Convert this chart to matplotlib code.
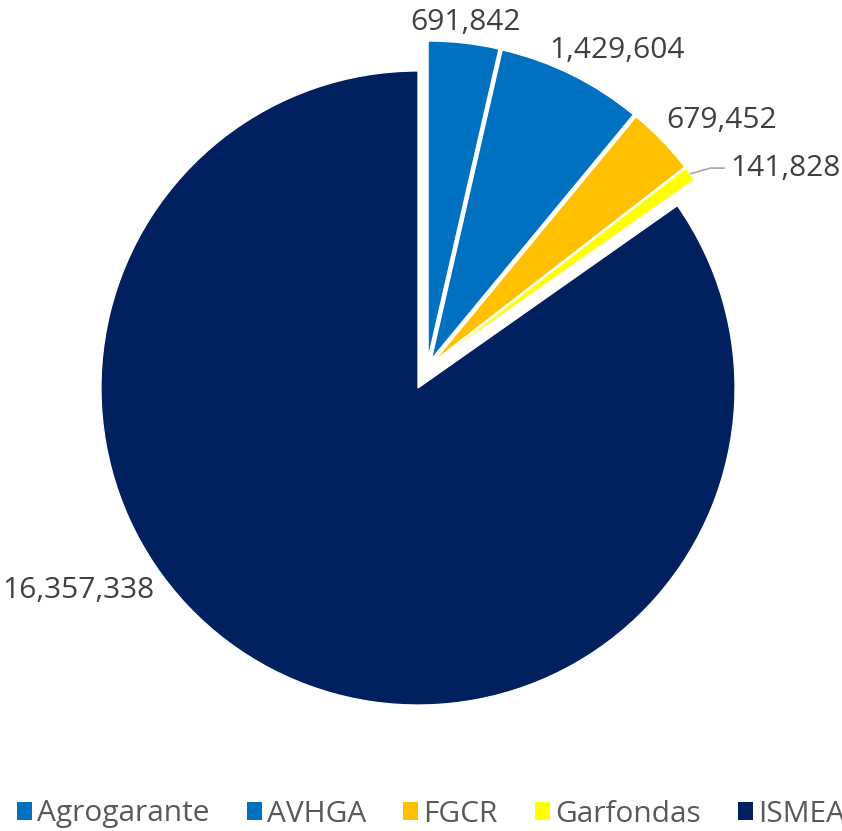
import matplotlib
matplotlib.use("Agg")
import matplotlib.pyplot as plt
import numpy as np
from matplotlib.patches import Patch

plt.rcParams['font.family'] = ['Open Sans', 'DejaVu Sans']

categories = ['Agrogarante', 'AVHGA', 'FGCR', 'Garfondas', 'ISMEA']
values = [691842, 1429604, 679452, 141828, 16357338]
colors = ['#0070C0', '#0070C0', '#FFC000', '#FFFF00', '#002060']
value_labels = [f"{v:,}" for v in values]

W, H = 842, 831
R_PX = 317.0
CX, CY = 418.0, 388.0

# label anchor points (axes data units, pie radius = 1)
label_px = [(465, 30), (617, 58), (722, 128), (785, 176), (78, 598)]
label_pos = [((x - CX) / R_PX, (CY - y) / R_PX) for x, y in label_px]

fig = plt.figure(figsize=(W / 100, H / 100), dpi=100)
ax = fig.add_axes([0, 0, 1, 1])

explode = [10 / R_PX] * 4 + [0]
wedges, _ = ax.pie(values, colors=colors, startangle=90, counterclock=False,
                   explode=explode, radius=1.0,
                   wedgeprops=dict(edgecolor='white', linewidth=0.9))

# pull the small slices out together
shift = np.array([9 / R_PX, 20 / R_PX])
for w in wedges[:4]:
    c = np.array(w.center)
    w.set_center(tuple(c + shift))

ax.set_xlim(-CX / R_PX, (W - CX) / R_PX)
ax.set_ylim(-(H - CY) / R_PX, CY / R_PX)
ax.set_aspect('auto')
ax.axis('off')

txt_color = '#404040'
for (x, y), lab in zip(label_pos, value_labels):
    ax.text(x, y, lab, ha='center', va='baseline', fontsize=21.5, color=txt_color)

# leader line for the Garfondas slice
g = wedges[3]
mid = np.deg2rad((g.theta1 + g.theta2) / 2)
gx = g.center[0] + g.r * np.cos(mid)
gy = g.center[1] + g.r * np.sin(mid)
lx = label_pos[3][0] - 0.19
ly = label_pos[3][1] + 0.025
ax.plot([gx, lx - 0.045, lx], [gy, ly, ly], color='#A6A6A6', lw=1.2,
        solid_capstyle='butt')

handles = [Patch(facecolor=c, edgecolor='none') for c in colors]
fig.legend(handles, categories, loc='center left',
           bbox_to_anchor=(17 / W, 1 - 814 / H), ncol=5, frameon=False,
           fontsize=21.5, labelcolor='#595959', borderpad=0, borderaxespad=0,
           handlelength=0.5, handleheight=0.53, handletextpad=0.17,
           columnspacing=1.25)

fig.savefig('out.png', dpi=100)
